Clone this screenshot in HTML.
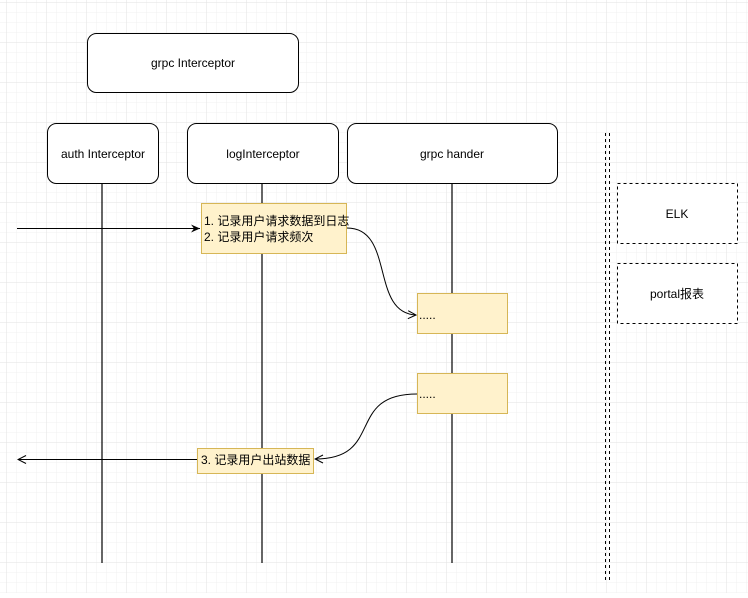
<!DOCTYPE html>
<html><head><meta charset="utf-8"><style>
body{margin:0;width:748px;height:593px;overflow:hidden;background:#fff;font-family:"Liberation Sans","Noto Sans CJK SC",sans-serif;}
</style></head><body>
<svg width="748" height="593" xmlns="http://www.w3.org/2000/svg" font-family="Liberation Sans, Noto Sans CJK SC, sans-serif">
<defs>
<pattern id="g" width="10" height="10" patternUnits="userSpaceOnUse" x="7" y="3"><path d="M10 0V10M0 10H10" fill="none" stroke="#f0f0f0" stroke-width="1"/></pattern>
<pattern id="G" width="40" height="40" patternUnits="userSpaceOnUse" x="7" y="3"><path d="M40 0V40M0 40H40" fill="none" stroke="#e2e2e2" stroke-width="1"/></pattern>
<marker id="a" markerWidth="10" markerHeight="10" refX="9" refY="5" orient="auto"><path d="M0 1L9 5L0 9L3 5Z" fill="#000"/></marker>
<marker id="o" markerWidth="10" markerHeight="10" refX="9" refY="5" orient="auto"><path d="M1 1L9 5L1 9" fill="none" stroke="#000"/></marker>
</defs>
<rect width="748" height="593" fill="url(#g)"/><rect width="748" height="593" fill="url(#G)"/>
<g stroke="#000" stroke-width="1.2">
<line x1="102" y1="183" x2="102" y2="563"/><line x1="262" y1="183" x2="262" y2="563"/><line x1="452" y1="183" x2="452" y2="563"/>
</g>
<g stroke="#000" fill="#fff">
<rect x="87.5" y="33.5" width="211" height="59" rx="9"/>
<rect x="47.5" y="123.5" width="111" height="60" rx="9"/>
<rect x="187.5" y="123.5" width="151" height="60" rx="9"/>
<rect x="347.5" y="123.5" width="210" height="60" rx="9"/>
<rect x="617.5" y="183.5" width="120" height="60" stroke-dasharray="3 3"/>
<rect x="617.5" y="263.5" width="120" height="60" stroke-dasharray="3 3"/>
</g>
<line x1="605.5" y1="133" x2="605.5" y2="583" stroke="#000" stroke-dasharray="3 3"/>
<line x1="609.5" y1="133" x2="609.5" y2="583" stroke="#000" stroke-dasharray="3 3"/>
<g fill="#fff2cc" stroke="#d6b656">
<rect x="201.5" y="203.5" width="145" height="50"/>
<rect x="417.5" y="293.5" width="90" height="40"/>
<rect x="417.5" y="373.5" width="90" height="40"/>
<rect x="197.5" y="448.5" width="116" height="25"/>
</g>
<line x1="17" y1="228.5" x2="200" y2="228.5" stroke="#000" marker-end="url(#a)"/>
<line x1="197" y1="459.5" x2="18" y2="459.5" stroke="#000" marker-end="url(#o)"/>
<path d="M347 228C395 228 370 313 416 315" fill="none" stroke="#000" marker-end="url(#o)"/>
<path d="M417 394C345 394 385 459 315 459" fill="none" stroke="#000" marker-end="url(#o)"/>
<g font-size="12" text-anchor="middle" fill="#000">
<text x="193" y="67">grpc Interceptor</text>
<text x="103" y="158">auth Interceptor</text>
<text x="263" y="158">logInterceptor</text>
<text x="452" y="158">grpc hander</text>
<text x="677" y="218">ELK</text>
<text x="677" y="298">portal报表</text>
</g>
<g font-size="12" fill="#000">
<text x="204" y="225">1. 记录用户请求数据到日志</text>
<text x="204" y="241">2. 记录用户请求频次</text>
<text x="419" y="319">.....</text>
<text x="419" y="398">.....</text>
<text x="201" y="464">3. 记录用户出站数据</text>
</g>
</svg>
</body></html>
